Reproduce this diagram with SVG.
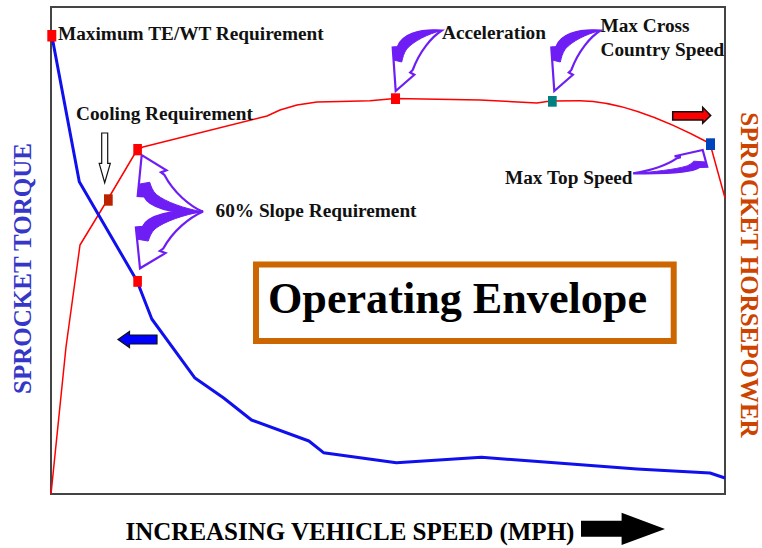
<svg xmlns="http://www.w3.org/2000/svg" width="762" height="548" viewBox="0 0 762 548">
<style>
  .lbl { font-family: "Liberation Serif", "Times New Roman", serif; font-weight: bold; font-size: 19.3px; fill: #111; }
  .axis { font-family: "Liberation Serif", "Times New Roman", serif; font-weight: 700; font-size: 25px; }
  .mk { stroke: none; }
  .callout-out { fill: #fff; stroke: #6e1ef5; stroke-width: 2.2; stroke-linejoin: miter; }
  .callout-band { fill: #6e1ef5; stroke: #6e1ef5; stroke-width: 1; }
</style>
<defs>
  <g id="curvedArrow">
    <path class="callout-out" vector-effect="non-scaling-stroke" d="M0,0 L-3,-43.5 L2,-44 C6,-56 22,-62 46,-60.5 C36,-54 24,-40 17,-21 L14.5,-18.5 L18.6,-16.2 Z"/>
    <path class="callout-band" vector-effect="non-scaling-stroke" d="M-3,-43.5 L2,-44 C6,-56 22,-62 46,-60.5 C32,-57 18,-50 11,-42 C8,-38 7,-33 6,-29 L-2,-31 Z"/>
  </g>
</defs>
<rect width="762" height="548" fill="#fff"/>

<g id="frame">
  <rect x="51" y="7" width="674" height="487" fill="none" stroke="#444" stroke-width="2"/>
</g>

<g id="curves">
  <polyline id="horsepower-curve" fill="none" stroke="#ff0000" stroke-width="1.5" stroke-linejoin="round"
    points="51,494 66,347 80,245 108,199 137,150 143,147 267,116 280,110 297,105 317,102 340,101.5 370,100.7 395,98.5 480,100 537,103 547,101.5 552,101 580,100.7"/>
  <path fill="none" stroke="#ff0000" stroke-width="1.5" d="M580,100.7 C620,101 670,122 710,143.5 L725,198"/>
  <polyline id="torque-curve" fill="none" stroke="#1010ee" stroke-width="3" stroke-linejoin="round"
    points="51.7,35 79.3,181.7 137,281 151.8,319 194.6,377.7 223.7,398 251.5,420 308.9,441 323.5,452.7 396.4,462.7 481.5,457.3 554.5,462.7 637,469 710,473 725,478"/>
</g>

<g id="callouts">
  <use href="#curvedArrow" transform="translate(395.7,91)"/>
  <use href="#curvedArrow" transform="translate(554.3,91)"/>
  <use href="#curvedArrow" transform="translate(140,268.3) scale(1.37,0.94)"/>
  <use href="#curvedArrow" transform="translate(141.7,155) scale(1.33,-0.94)"/>
  <use href="#curvedArrow" transform="translate(702.7,150) scale(-1.51,-0.386)"/>
</g>

<g id="markers">
  <rect class="mk" x="47.3" y="30" width="9" height="11.5" fill="#ff0000"/>
  <rect class="mk" x="133.3" y="144" width="8.6" height="11.3" fill="#ff0000"/>
  <rect class="mk" x="104" y="194.3" width="8.7" height="11.4" fill="#bb2200"/>
  <rect class="mk" x="133.3" y="276" width="8.6" height="10.8" fill="#ff0000"/>
  <rect class="mk" x="391" y="93.3" width="9" height="10.7" fill="#ff0000"/>
  <rect class="mk" x="548" y="96" width="8.7" height="10.7" fill="#008080"/>
  <rect class="mk" x="706" y="138.3" width="9" height="11.7" fill="#0044bb"/>
</g>

<g id="direction-arrows">
  <path id="cooling-arrow" d="M101.7,133 L107.7,133 L107.7,163.3 L110.3,163.3 L104.7,182.7 L99.2,163.3 L101.7,163.3 Z" fill="#fff" stroke="#111" stroke-width="1.2"/>
  <path id="torque-axis-arrow" d="M157,335 L157,344 L129.5,344 L129.5,347.5 L118,339.5 L129.5,331.5 L129.5,335 Z" fill="#0000ff" stroke="#111" stroke-width="1.2"/>
  <path id="hp-axis-arrow" d="M672.7,111.7 L702.7,111.7 L702.7,107.3 L710.7,115.5 L702.7,123.3 L702.7,120 L672.7,120 Z" fill="#ff0000" stroke="#111" stroke-width="1.5"/>
  <path id="speed-arrow" d="M581,520.7 L621.6,520.7 L621.6,512.7 L665,529 L621.6,545 L621.6,536.7 L581,536.7 Z" fill="#000"/>
</g>

<g id="envelope">
  <rect x="256" y="264.5" width="417.7" height="76.5" fill="#fff" stroke="#cc6600" stroke-width="6"/>
  <text x="268" y="313.3" font-family="Liberation Serif, Times New Roman, serif" font-weight="bold" font-size="45" fill="#000" textLength="379" lengthAdjust="spacingAndGlyphs">Operating Envelope</text>
</g>

<g id="labels">
  <text class="lbl" x="58" y="40">Maximum TE/WT Requirement</text>
  <text class="lbl" x="76" y="120">Cooling Requirement</text>
  <text class="lbl" x="215.5" y="217">60% Slope Requirement</text>
  <text class="lbl" x="442" y="38.5">Acceleration</text>
  <text class="lbl" x="600.5" y="31.5">Max Cross</text>
  <text class="lbl" x="600.5" y="55.5">Country Speed</text>
  <text class="lbl" x="505" y="183.5">Max Top Speed</text>
</g>

<g id="axis-labels">
  <text class="axis" x="125.5" y="540" fill="#000">INCREASING VEHICLE SPEED (MPH)</text>
  <text class="axis" transform="translate(31,268.5) rotate(-90)" text-anchor="middle" fill="#3636c8" font-weight="bold" font-size="25.4">SPROCKET TORQUE</text>
  <text class="axis" transform="translate(740.5,275) rotate(90)" text-anchor="middle" fill="#cc4400" font-weight="bold" font-size="24.8">SPROCKET HORSEPOWER</text>
</g>
</svg>
